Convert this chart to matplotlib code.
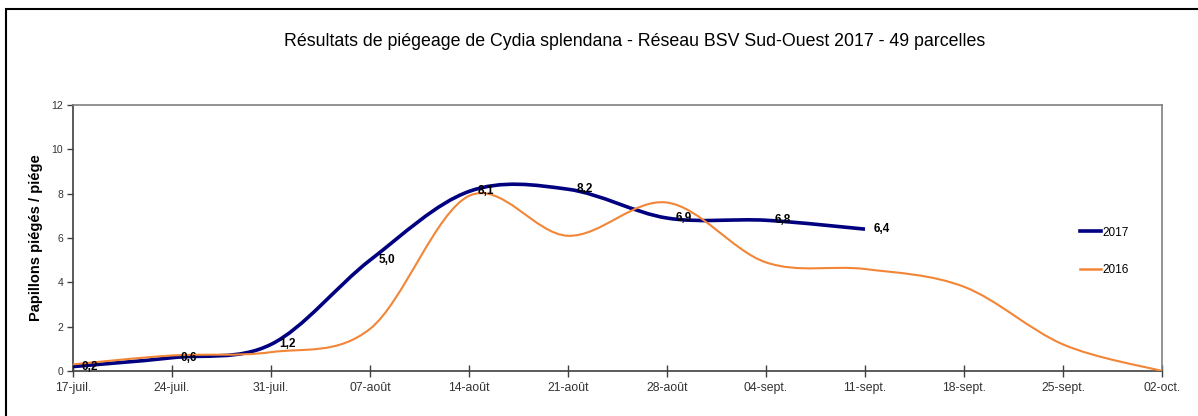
import matplotlib
matplotlib.use("Agg")
import matplotlib.pyplot as plt
from matplotlib.path import Path
from matplotlib.patches import PathPatch, Rectangle
from matplotlib.lines import Line2D
import numpy as np

plt.rcParams['font.family'] = ['Liberation Sans', 'DejaVu Sans']

# weekly dates, days counted from 17-juil.
week_labels = ['17-juil.', '24-juil.', '31-juil.', '07-août', '14-août', '21-août',
               '28-août', '04-sept.', '11-sept.', '18-sept.', '25-sept.', '02-oct.']
week_days = [0, 7, 14, 21, 28, 35, 42, 49, 56, 63, 70, 77]

# 2017 captures (labelled values)
days_2017 = [0, 7, 14, 21, 28, 35, 42, 49, 56]
vals_2017 = [0.2, 0.6, 1.2, 5.0, 8.1, 8.2, 6.9, 6.8, 6.4]
lbls_2017 = ['0,2', '0,6', '1,2', '5,0', '8,1', '8,2', '6,9', '6,8', '6,4']

# 2016 captures
days_2016 = [0, 7, 14, 21, 28, 35, 42, 49, 56, 63, 70, 77]
vals_2016 = [0.3, 0.7, 0.85, 1.9, 7.9, 6.1, 7.6, 4.9, 4.6, 3.8, 1.2, 0.0]


def smooth_path(x, y):
    """Excel-like smoothed line: cubic Bezier through every point."""
    x = np.asarray(x, float)
    y = np.asarray(y, float)
    px = np.concatenate([[x[0]], x, [x[-1]]])
    py = np.concatenate([[y[0]], y, [y[-1]]])
    verts = [(x[0], y[0])]
    codes = [Path.MOVETO]
    for i in range(1, len(px) - 2):
        c1 = (px[i] + (px[i + 1] - px[i - 1]) / 6, py[i] + (py[i + 1] - py[i - 1]) / 6)
        c2 = (px[i + 1] - (px[i + 2] - px[i]) / 6, py[i + 1] - (py[i + 2] - py[i]) / 6)
        verts += [c1, c2, (px[i + 1], py[i + 1])]
        codes += [Path.CURVE4] * 3
    return Path(verts, codes)


fig = plt.figure(figsize=(11.98, 4.16), dpi=100)
ax = fig.add_axes([73 / 1198, 1 - 371 / 416, (1162 - 73) / 1198, (371 - 105) / 416])

c2017 = '#000080'
c2016 = '#F28536'

ax.add_patch(PathPatch(smooth_path(days_2017, vals_2017), fill=False,
                       edgecolor=c2017, lw=2.6, capstyle='butt', zorder=3))
ax.add_patch(PathPatch(smooth_path(days_2016, vals_2016), fill=False,
                       edgecolor=c2016, lw=1.5, zorder=4))

for d, v, t in zip(days_2017, vals_2017, lbls_2017):
    ax.annotate(t, (d, v), xytext=(6, 0), textcoords='offset points',
                ha='left', va='center', fontsize=8.5, fontweight='bold', zorder=5)

ax.set_xlim(0, 77)
ax.set_ylim(0, 12)
ax.set_xticks(week_days)
ax.set_xticklabels(week_labels)
ax.set_yticks(range(0, 13, 2))

for s in ax.spines.values():
    s.set_color('#808080')
    s.set_linewidth(1.2)
ax.spines['bottom'].set_color('#404040')
ax.spines['left'].set_color('#404040')

ax.tick_params(axis='x', direction='inout', length=8, width=1, color='#404040',
               labelsize=8.8, labelcolor='#333333', pad=4)
ax.tick_params(axis='y', direction='out', length=4, width=1, color='#404040',
               labelsize=7.5, labelcolor='#333333', pad=3)

ax.set_ylabel('Papillons piégés / piége', fontsize=10.5, fontweight='bold', labelpad=6)

fig.text(635 / 1198, 1 - 42 / 416,
         'Résultats de piégeage de Cydia splendana - Réseau BSV Sud-Ouest 2017 - 49 parcelles',
         ha='center', va='center', fontsize=12.8)

handles = [Line2D([], [], color=c2017, lw=2.6), Line2D([], [], color=c2016, lw=1.8)]
fig.legend(handles, ['2017', '2016'], loc='center left',
           bbox_to_anchor=(1080 / 1198, 1 - 251.5 / 416), frameon=False,
           fontsize=8.5, handlelength=1.8, handletextpad=0.1, labelspacing=2.2,
           borderpad=0, borderaxespad=0)

fig.add_artist(Rectangle((6 / 1198, -0.05), 1.1, 1.05 - 9 / 416, transform=fig.transFigure,
                         fill=False, edgecolor='black', lw=1.5, clip_on=False))

fig.savefig('out.png', dpi=100)
